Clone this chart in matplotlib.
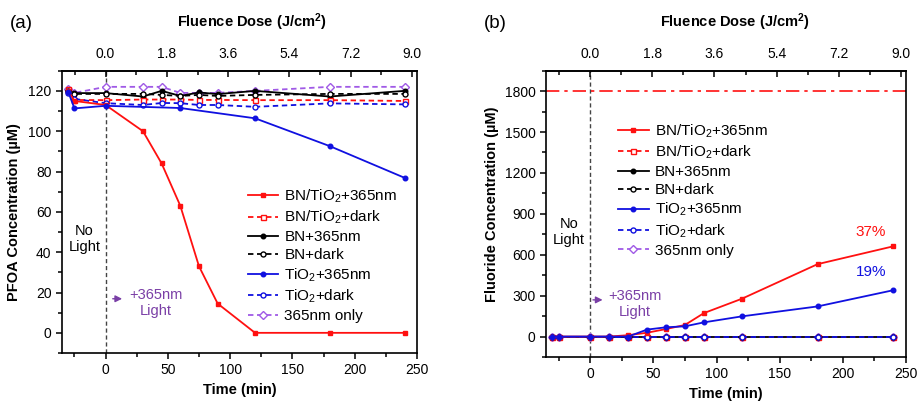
import numpy as np
import matplotlib
matplotlib.use("Agg")
import matplotlib.pyplot as plt
from matplotlib.ticker import MultipleLocator, FixedLocator, FormatStrFormatter

plt.rcParams['font.family'] = ['Liberation Sans', 'DejaVu Sans']
plt.rcParams['mathtext.fontset'] = 'custom'
plt.rcParams['mathtext.rm'] = 'Liberation Sans'
plt.rcParams['mathtext.it'] = 'Liberation Sans:italic'
plt.rcParams['mathtext.bf'] = 'Liberation Sans:bold'

# PFOA degradation (panel a), time in min
t_pfoa = [-30, -25, 0, 30, 45, 60, 75, 90, 120, 180, 240]
pfoa_bt_uv = [120, 115, 113, 100, 84, 63, 33, 14.5, 0, 0, 0]
pfoa_bt_dark = [121, 115.5, 115.4, 115.7, 115.7, 115.7, 115.5, 115.5, 115.4, 115.4, 115]
pfoa_bn_uv = [120, 118.9, 118.9, 117.2, 120, 117.5, 119.2, 118.4, 120, 117.2, 120]
pfoa_bn_dark = [120, 118.5, 118.5, 118.5, 118, 117.5, 118, 117.5, 118, 118.5, 118.5]
pfoa_ti_dark = [119, 116, 113.9, 113, 114, 113.9, 113, 113, 112.1, 113.8, 113.3]
pfoa_uv_only = [121, 119, 122, 122, 122, 119, 119, 119, 120, 122, 122]
t_pfoa_ti = [-30, -25, 0, 60, 120, 180, 240]
pfoa_ti_uv = [119.5, 111.3, 112.6, 111.5, 106.4, 92.6, 76.9]

# fluoride release (panel b)
t_f = [-30, -25, 0, 15, 30, 45, 60, 75, 90, 120, 180, 240]
f_bt_uv = [0, 0, 0, 0, 10, 28, 55, 85, 172, 277, 531, 662]
f_bt_dark = [0, 0, 0, 0, 0, 0, 0, 0, 0, 0, 0, 0]
f_bn_uv = [0, 0, 0, 0, 0, 0, 0, 0, 0, 0, 0, 0]
f_bn_dark = [0, 0, 0, 0, 0, 0, 0, 0, 0, 0, 0, 0]
f_ti_uv = [0, 0, 0, 0, 0, 51, 68, 75, 104, 148, 221, 340]
f_ti_dark = [0, 0, 0, 0, 0, 0, 0, 0, 0, 0, 0, 0]
f_uv_only = [0, 0, 0, 0, 0, 0, 0, 0, 0, 0, 0, 0]
f_max = 1800  # full defluorination of 120 uM PFOA

# fluence dose reaches 9.0 J/cm2 at ~246 min
dose_per_min = 9.0 / 246

RED = '#ff1010'
BLUE = '#1010e0'
PURPLE = '#a05ae6'
TXT_PURPLE = '#7a3fa6'
DASH = (0, (3, 2))

labels = ['BN/TiO$_2$+365nm', 'BN/TiO$_2$+dark', 'BN+365nm', 'BN+dark',
          'TiO$_2$+365nm', 'TiO$_2$+dark', '365nm only']


def plot_series(ax, t, y, t_ti, y_ti, extra):
    # extra holds the dark / uv-only series in legend order
    bt_dark, bn_uv, bn_dark, ti_dark, uv_only = extra
    h = []
    h += ax.plot(t, y[0], '-', color=RED, marker='s', ms=3.3, lw=1.3, zorder=5)
    h += ax.plot(t, bt_dark, color=RED, ls=DASH, marker='s', ms=3.6, mfc='white', lw=1.3, zorder=3)
    h += ax.plot(t, bn_uv, '-', color='black', marker='o', ms=3.3, lw=1.3, zorder=2.5)
    h += ax.plot(t, bn_dark, color='black', ls=DASH, marker='o', ms=3.6, mfc='white', lw=1.3, zorder=3)
    h += ax.plot(t_ti, y_ti, '-', color=BLUE, marker='o', ms=3.3, lw=1.3, zorder=5)
    h += ax.plot(t, ti_dark, color=BLUE, ls=DASH, marker='o', ms=3.6, mfc='white', lw=1.3, zorder=3.2)
    h += ax.plot(t, uv_only, color=PURPLE, ls=DASH, marker='D', ms=4.2, mfc='white', lw=1.3, zorder=2)
    return h


def style_axes(ax, ymaj, ymin):
    ax.set_xlim(-35, 250)
    ax.xaxis.set_major_locator(MultipleLocator(50))
    ax.xaxis.set_minor_locator(MultipleLocator(25))
    ax.yaxis.set_major_locator(MultipleLocator(ymaj))
    ax.yaxis.set_minor_locator(MultipleLocator(ymin))
    ax.tick_params(which='both', direction='out', labelsize=10, width=1.1)
    ax.tick_params(which='major', length=4)
    ax.tick_params(which='minor', length=3)
    for s in ax.spines.values():
        s.set_linewidth(1.2)
    ax.axvline(0, color='#444444', ls=DASH, lw=1, zorder=0)
    ax.set_xlabel('Time (min)', fontsize=10.5, fontweight='bold', labelpad=4)

    top = ax.secondary_xaxis('top', functions=(lambda t: t * dose_per_min,
                                                lambda d: d / dose_per_min))
    top.xaxis.set_major_locator(FixedLocator([0, 1.8, 3.6, 5.4, 7.2, 9.0]))
    top.xaxis.set_minor_locator(FixedLocator([-0.9, 0.9, 2.7, 4.5, 6.3, 8.1]))
    top.xaxis.set_major_formatter(FormatStrFormatter('%.1f'))
    top.tick_params(which='both', direction='in', labelsize=10, width=1.1, pad=7)
    top.tick_params(which='major', length=4)
    top.tick_params(which='minor', length=3)
    top.spines['top'].set_linewidth(1.2)


fig = plt.figure(figsize=(9.17, 4.05), dpi=100)
ax1 = fig.add_axes([0.0676, 0.1284, 0.3871, 0.697])
ax2 = fig.add_axes([0.5954, 0.1185, 0.3926, 0.707])

# (a) PFOA concentration
h = plot_series(ax1, t_pfoa, [pfoa_bt_uv], t_pfoa_ti, pfoa_ti_uv,
                (pfoa_bt_dark, pfoa_bn_uv, pfoa_bn_dark, pfoa_ti_dark, pfoa_uv_only))
style_axes(ax1, 20, 10)
ax1.set_ylim(-10, 130)
ax1.set_ylabel('PFOA Concentration (\u00b5M)', fontsize=10.5, fontweight='bold', labelpad=5)
ax1.legend(h, labels, loc='upper left', bbox_to_anchor=(0.270, 0.537),
           bbox_transform=fig.transFigure, frameon=False, fontsize=11,
           handlelength=2.0, handletextpad=0.4, labelspacing=0.26,
           borderpad=0, borderaxespad=0)
ax1.text(-17, 46.5, 'No\nLight', ha='center', va='center', fontsize=10.5, linespacing=1.2)
ax1.text(40.5, 14.6, '+365nm\nLight', ha='center', va='center', fontsize=10.5,
         color=TXT_PURPLE, linespacing=1.2)
ax1.annotate('', xy=(15.5, 16.9), xytext=(3.5, 16.9),
             arrowprops=dict(arrowstyle='-|>,head_length=0.4,head_width=0.2',
                             color=TXT_PURPLE, lw=1))

# (b) fluoride release
h = plot_series(ax2, t_f, [f_bt_uv], t_f, f_ti_uv,
                (f_bt_dark, f_bn_uv, f_bn_dark, f_ti_dark, f_uv_only))
style_axes(ax2, 300, 150)
ax2.set_ylim(-150, 1950)
ax2.axhline(f_max, color=RED, ls=(0, (8, 3, 2, 3)), lw=1.2, zorder=0)
ax2.set_ylabel('Fluoride Concentration (\u00b5M)', fontsize=10.5, fontweight='bold')
ax2.yaxis.set_label_coords(-0.13, 0.534)
ax2.legend(h, labels, loc='upper left', bbox_to_anchor=(0.674, 0.698),
           bbox_transform=fig.transFigure, frameon=False, fontsize=11,
           handlelength=2.0, handletextpad=0.4, labelspacing=0.26,
           borderpad=0, borderaxespad=0)
ax2.text(-16.7, 764, 'No\nLight', ha='center', va='center', fontsize=10.5, linespacing=1.2)
ax2.text(35.6, 240, '+365nm\nLight', ha='center', va='center', fontsize=10.5,
         color=TXT_PURPLE, linespacing=1.2)
ax2.annotate('', xy=(12, 269), xytext=(0, 269),
             arrowprops=dict(arrowstyle='-|>,head_length=0.4,head_width=0.2',
                             color=TXT_PURPLE, lw=1))
ax2.text(222, 767, '%d%%' % round(100 * f_bt_uv[-1] / f_max), color=RED,
         ha='center', va='center', fontsize=11)
ax2.text(222, 475, '%d%%' % round(100 * f_ti_uv[-1] / f_max), color=BLUE,
         ha='center', va='center', fontsize=11)

# panel tags and top-axis titles
fig.text(21 / 917, 1 - 23 / 405, '(a)', fontsize=13.5, ha='center', va='center')
fig.text(495 / 917, 1 - 23 / 405, '(b)', fontsize=13.5, ha='center', va='center')
fig.text(252 / 917, 1 - 22 / 405, 'Fluence Dose (J/cm$^{\\mathbf{2}}$)', fontsize=10.5,
         fontweight='bold', ha='center', va='center')
fig.text(735 / 917, 1 - 22 / 405, 'Fluence Dose (J/cm$^{\\mathbf{2}}$)', fontsize=10.5,
         fontweight='bold', ha='center', va='center')

fig.savefig('out.png', dpi=100)
